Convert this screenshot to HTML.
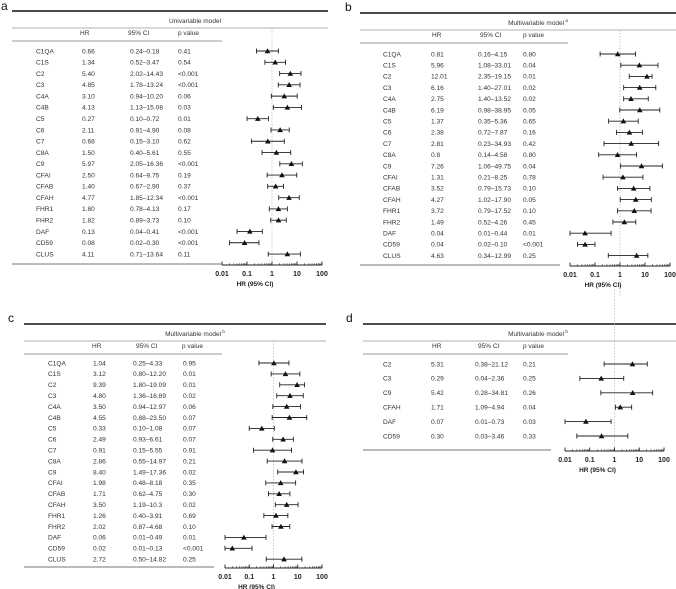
<!DOCTYPE html>
<html><head><meta charset="utf-8"><style>
body{margin:0;background:#fff;}
svg{display:block;font-family:"Liberation Sans",sans-serif;}
</style></head><body>
<svg id="fig" width="676" height="589" viewBox="0 0 676 589"></svg>
<script>
const aLabels=["C1QA","C1S","C2","C3","C4A","C4B","C5","C6","C7","C8A","C9","CFAI","CFAB","CFAH","FHR1","FHR2","DAF","CD59","CLUS"];
const aHR=["0.66","1.34","5.40","4.85","3.10","4.13","0.27","2.11","0.68","1.50","5.97","2.50","1.40","4.77","1.80","1.82","0.13","0.08","4.11"];
const aLo=["0.24","0.52","2.02","1.78","0.94","1.13","0.10","0.91","0.15","0.40","2.05","0.64","0.67","1.85","0.78","0.89","0.04","0.02","0.71"];
const aHi=["0.18","3.47","14.43","13.24","10.20","15.08","0.72","4.90","3.10","5.61","16.36","9.75","2.90","12.34","4.13","3.73","0.41","0.30","13.64"];
const aP=["0.41","0.54","<0.001","<0.001","0.06","0.03","0.01","0.08","0.62","0.55","<0.001","0.19","0.37","<0.001","0.17","0.10","<0.001","<0.001","0.11"];

const bLabels=aLabels;
const bHR=["0.81","5.96","12.01","6.16","2.75","6.19","1.37","2.38","2.81","0.8","7.26","1.31","3.52","4.27","3.72","1.49","0.04","0.04","4.63"];
const bLo=["0.16","1.08","2.35","1.40","1.40","0.98","0.35","0.72","0.23","0.14","1.06","0.21","0.79","1.02","0.79","0.52","0.01","0.02","0.34"];
const bHi=["4.15","33.01","19.15","27.01","13.52","38.95","5.36","7.87","34.93","4.58","49.75","8.25","15.73","17.90","17.52","4.26","0.44","0.10","12.99"];
const bP=["0.80","0.04","0.01","0.02","0.02","0.05","0.65","0.16","0.42","0.80","0.04","0.78","0.10","0.05","0.10","0.45","0.01","<0.001","0.25"];

const cLabels=aLabels;
const cHR=["1.04","3.12","9.39","4.80","3.50","4.55","0.33","2.49","0.91","2.86","8.40","1.98","1.71","3.50","1.26","2.02","0.06","0.02","2.72"];
const cLo=["0.25","0.80","1.80","1.36","0.94","0.88","0.10","0.93","0.15","0.55","1.49","0.48","0.62","1.19","0.40","0.87","0.01","0.01","0.50"];
const cHi=["4.33","12.20","19.09","16.89","12.97","23.50","1.08","6.61","5.55","14.97","17.36","8.18","4.75","10.3","3.91","4.68","0.49","0.13","14.82"];
const cP=["0.95","0.01","0.01","0.02","0.06","0.07","0.07","0.07","0.91","0.21","0.02","0.35","0.30","0.02","0.69","0.10","0.01","<0.001","0.25"];

const dLabels=["C2","C3","C9","CFAH","DAF","CD59"];
const dHR=["5.31","0.29","5.42","1.71","0.07","0.30"];
const dLo=["0.38","0.04","0.28","1.09","0.01","0.03"];
const dHi=["21.12","2.36","34.81","4.94","0.73","3.46"];
const dP=["0.21","0.25","0.26","0.04","0.03","0.33"];

const tickVals=[0.01,0.1,1,10,100];
const tickLabels=["0.01","0.1","1","10","100"];

const NS="http://www.w3.org/2000/svg";
const svg=document.getElementById('fig');
function mk(tag,attrs,parent,text){const e=document.createElementNS(NS,tag);for(const k in attrs)e.setAttribute(k,attrs[k]);if(text!==undefined)e.textContent=text;(parent||svg).appendChild(e);return e;}

function panel(P){
  const g=mk('g',{});
  
  
  const xs=v=>P.ax0+(Math.log10(v)+2)*(P.ax1-P.ax0)/4;
  let t=mk('text',{x:P.lx,y:P.ly,'font-size':12,fill:'#111'},g,P.id);
  
  let l=mk('line',{x1:P.x0,x2:P.x1,y1:P.topY,y2:P.topY,stroke:'#111','stroke-width':1.6},g);
  
  t=mk('text',{x:P.hdrX,y:P.topY+12,'font-size':6.5,fill:'#333','text-anchor':'middle'},g,P.title);
  
  if(P.sup){mk('tspan',{'font-size':4.5,dy:-3},t,' '+P.sup);}
  l=mk('line',{x1:P.x0,x2:P.x1,y1:P.topY+17,y2:P.topY+17,stroke:'#999','stroke-width':0.8},g);
  
  const hy=P.topY+24;
  [['HR',P.cHR],['95% CI',P.cCI],['p value',P.cP]].forEach(([s,x])=>{
    const e=mk('text',{x:x,y:hy,'font-size':6.5,fill:'#333'},g,s);
    
  });
  l=mk('line',{x1:P.x0,x2:P.tblEnd,y1:P.topY+30,y2:P.topY+30,stroke:'#777','stroke-width':0.8},g);
  
  l=mk('line',{x1:xs(1),x2:xs(1),y1:P.refTop,y2:P.refBot,stroke:'#aaa','stroke-width':0.6,'stroke-dasharray':'1.5,1.5'},g);
  
  P.labels.forEach((lab,i)=>{
    const y=P.row0+i*P.dy;
    const vals=[[lab,P.cLab],[P.hr[i],P.cHRv],[P.lo[i]+'\u2013'+P.hi[i],P.cCIv],[P.p[i],P.cPv]];
    vals.forEach(([s,x],j)=>{
      const e=mk('text',{x:x,y:y+2.3,'font-size':6.6,fill:'#333'},g,s);
      
      
    });
    let lo=parseFloat(P.lo[i]),hi=parseFloat(P.hi[i]);const hr=parseFloat(P.hr[i]);
    if(hi<lo) hi=hi*10; // printed typo in source table (0.18 for 1.8)
    const x1=xs(Math.min(lo,hi)),x2=xs(Math.max(lo,hi)),xm=xs(hr);
    const eg=mk('g',{},g);
    
    
    mk('line',{x1:x1,x2:x2,y1:y,y2:y,stroke:'#222','stroke-width':0.9},eg);
    mk('line',{x1:x1,x2:x1,y1:y-2.5,y2:y+2.5,stroke:'#222','stroke-width':0.9},eg);
    mk('line',{x1:x2,x2:x2,y1:y-2.5,y2:y+2.5,stroke:'#222','stroke-width':0.9},eg);
    const tri=mk('polygon',{points:`${xm},${y-2.8} ${xm-2.8},${y+2.2} ${xm+2.8},${y+2.2}`,fill:'#111'},g);
    
    
  });
  l=mk('line',{x1:P.x0,x2:P.botEnd,y1:P.botY,y2:P.botY,stroke:'#777','stroke-width':0.9},g);
  
  const axg=mk('g',{},g);
  
  mk('line',{x1:P.ax0,x2:P.ax1,y1:P.axY,y2:P.axY,stroke:'#222','stroke-width':0.9},axg);
  for(let d=-2;d<2;d++){for(let m=2;m<10;m++){const x=xs(m*Math.pow(10,d));mk('line',{x1:x,x2:x,y1:P.axY,y2:P.axY-1.8,stroke:'#222','stroke-width':0.6},axg);}}
  tickVals.forEach((v,i)=>{
    const x=xs(v);
    mk('line',{x1:x,x2:x,y1:P.axY,y2:P.axY-3.5,stroke:'#222','stroke-width':0.9},axg);
    const e=mk('text',{x:x,y:P.axY+11,'font-size':7,'font-weight':'bold',fill:'#222','text-anchor':'middle'},axg,tickLabels[i]);
    
  });
  t=mk('text',{x:xs(1)-17,y:P.axY+21,'font-size':6.5,'font-weight':'bold',fill:'#222','text-anchor':'middle'},g,'HR (95% CI)');
  
}

panel({id:'a',lx:1,ly:10,x0:12,x1:328,topY:11,hdrX:195,title:'Univariable model',sup:'',
  cHR:80,cCI:128,cP:178,tblEnd:222,cLab:36,cHRv:82,cCIv:130,cPv:178,
  row0:51,dy:11.28,botY:264,botEnd:222,ax0:222,ax1:322,axY:265,refTop:28,refBot:262,
  labels:aLabels,hr:aHR,lo:aLo,hi:aHi,p:aP});
panel({id:'b',lx:345,ly:11,x0:360,x1:676,topY:13,hdrX:538,title:'Multivariable model',sup:'a',
  cHR:432,cCI:480,cP:523,tblEnd:568,cLab:383,cHRv:431,cCIv:478,cPv:523,
  row0:54,dy:11.2,botY:265,botEnd:560,ax0:570,ax1:670,axY:266,refTop:30,refBot:297,
  labels:bLabels,hr:bHR,lo:bLo,hi:bHi,p:bP});
panel({id:'c',lx:8,ly:322,x0:24,x1:326,topY:324,hdrX:195,title:'Multivariable model',sup:'b',
  cHR:92,cCI:136,cP:182,tblEnd:222,cLab:48,cHRv:93,cCIv:133,cPv:183,
  row0:363,dy:10.9,botY:567,botEnd:214,ax0:225,ax1:322,axY:568,refTop:341,refBot:566,
  labels:cLabels,hr:cHR,lo:cLo,hi:cHi,p:cP});
panel({id:'d',lx:346,ly:322,x0:363,x1:676,topY:324,hdrX:538,title:'Multivariable model',sup:'b',
  cHR:432,cCI:478,cP:523,tblEnd:568,cLab:383,cHRv:431,cCIv:475,cPv:523,
  row0:364,dy:14.4,botY:450,botEnd:551,ax0:565,ax1:664,axY:451,refTop:290,refBot:449,
  labels:dLabels,hr:dHR,lo:dLo,hi:dHi,p:dP});
</script>
</body></html>
